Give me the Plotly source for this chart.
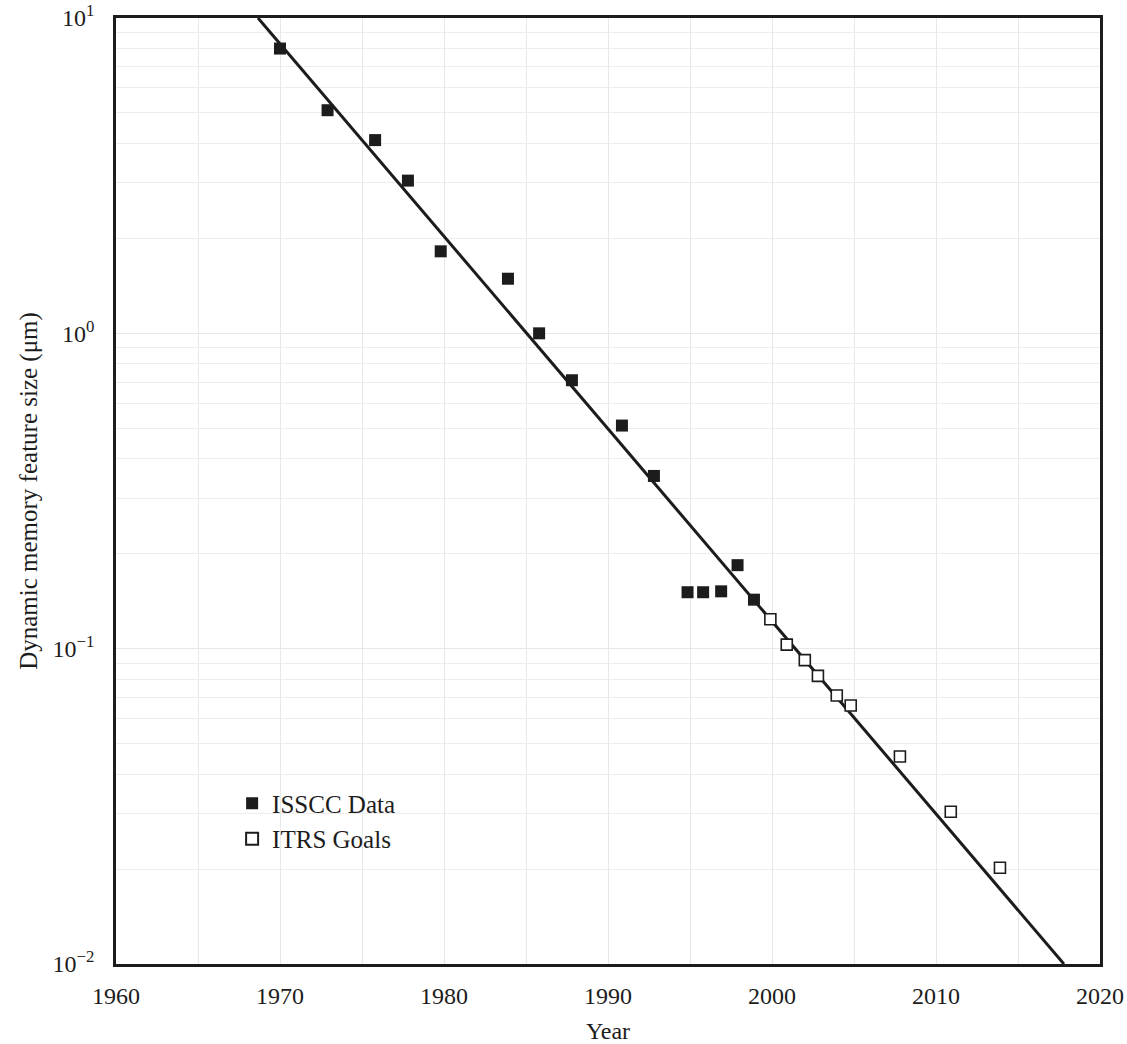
import plotly.graph_objects as go

# ISSCC data (filled squares)
isscc_year = [1970.0, 1972.9, 1975.8, 1977.8, 1979.8, 1983.9, 1985.8, 1987.8,
              1990.85, 1992.8, 1994.85, 1995.8, 1996.9, 1997.9, 1998.9]
isscc_size = [8.0, 5.1, 4.1, 3.05, 1.82, 1.49, 1.0, 0.71,
              0.51, 0.353, 0.151, 0.151, 0.152, 0.184, 0.143]

# ITRS goals (open squares)
itrs_year = [1999.9, 2000.9, 2002.0, 2002.8, 2003.95, 2004.8, 2007.8, 2010.9, 2013.9]
itrs_size = [0.124, 0.103, 0.092, 0.082, 0.071, 0.066, 0.0455, 0.0304, 0.0202]

# Trend line endpoints
trend_year = [1968.66, 2017.8]
trend_size = [10.0, 0.01]

x_ticks = [1960, 1970, 1980, 1990, 2000, 2010, 2020]
y_ticks = [0.01, 0.1, 1, 10]
y_ticktext = ["10<sup>\u22122</sup>", "10<sup>\u22121</sup>", "10<sup>0</sup>", "10<sup>1</sup>"]

FONT = "Liberation Serif"
INK = "#1c1c1c"

fig = go.Figure()
fig.add_trace(go.Scatter(
    x=trend_year, y=trend_size, mode="lines",
    line=dict(color=INK, width=3), showlegend=False, hoverinfo="skip"))
fig.add_trace(go.Scatter(
    x=isscc_year, y=isscc_size, mode="markers", name="ISSCC Data",
    marker=dict(symbol="square", size=12, color=INK, line=dict(width=0))))
fig.add_trace(go.Scatter(
    x=itrs_year, y=itrs_size, mode="markers", name="ITRS Goals",
    marker=dict(symbol="square", size=11, color="white", line=dict(color=INK, width=1.6))))

minor_y = [m * 10 ** e for e in (-2, -1, 0) for m in range(2, 10)]

fig.update_layout(
    width=1127, height=1044,
    margin=dict(l=116, r=27, t=18, b=80),
    paper_bgcolor="white", plot_bgcolor="white",
    font=dict(family=FONT, color=INK, size=24),
    legend=dict(x=0.118, y=0.194, xanchor="left", yanchor="top",
                bgcolor="rgba(0,0,0,0)", font=dict(size=25, family=FONT),
                tracegroupgap=0, itemsizing="constant"),
    xaxis=dict(
        range=[1960, 2020], tickvals=x_ticks, ticks="", showline=True,
        linecolor=INK, linewidth=2.5, mirror=True, zeroline=False,
        showgrid=True, gridcolor="#e8e8e8", gridwidth=1,
        minor=dict(dtick=5, showgrid=True, gridcolor="#e8e8e8", gridwidth=1),
        tickfont=dict(size=24, family=FONT), ticklabelstandoff=8,
        ticklabeloverflow="allow", automargin=False,
        title=dict(text="Year", font=dict(size=24, family=FONT), standoff=24),
    ),
    yaxis=dict(
        type="log", range=[-2, 1], tickvals=y_ticks, ticktext=y_ticktext,
        ticks="", showline=True, linecolor=INK, linewidth=2.5, mirror=True,
        zeroline=False, showgrid=True, gridcolor="#e8e8e8", gridwidth=1,
        minor=dict(tickvals=minor_y, showgrid=True, gridcolor="#ededed", gridwidth=1),
        tickfont=dict(size=24, family=FONT), ticklabelstandoff=14,
        ticklabeloverflow="allow", automargin=False,
        title=dict(text="Dynamic memory feature size (\u03bcm)",
                   font=dict(size=25, family=FONT), standoff=8),
    ),
)

fig.write_html(
    "out.html",
    config={"displayModeBar": False},
    post_script="document.body.style.margin='0';document.body.style.overflow='hidden';",
)
